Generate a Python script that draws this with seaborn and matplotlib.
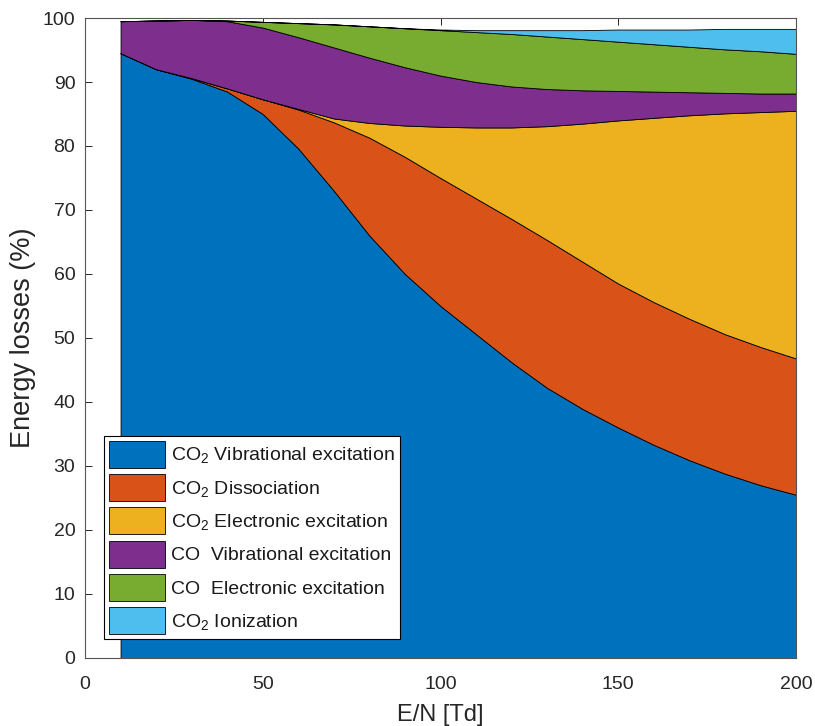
import numpy as np
import pandas as pd
import matplotlib
matplotlib.use("Agg")
import matplotlib.pyplot as plt
import seaborn as sns

# Reduced electric field E/N (Td)
en_td = [10, 20, 30, 40, 50, 60, 70, 80, 90, 100,
         110, 120, 130, 140, 150, 160, 170, 180, 190, 200]

# Fraction of electron energy going into each channel (%)
co2_vib = [94.5, 92.0, 90.5, 88.5, 85.0, 79.6, 73.0, 66.0, 60.0, 55.0,
           50.6, 46.2, 42.2, 38.9, 36.0, 33.3, 30.9, 28.8, 27.0, 25.5]
co2_diss = [0.0, 0.0, 0.1, 0.5, 2.3, 6.1, 10.7, 15.3, 18.3, 20.0,
            21.2, 22.4, 23.1, 23.0, 22.5, 22.3, 22.1, 21.8, 21.6, 21.3]
co2_elec = [0.0, 0.0, 0.0, 0.0, 0.0, 0.1, 0.6, 2.3, 4.9, 8.0,
            11.1, 14.3, 17.8, 21.6, 25.5, 28.8, 31.8, 34.5, 36.7, 38.7]
co_vib = [5.0, 7.6, 9.1, 10.5, 11.2, 11.2, 11.1, 10.2, 9.1, 8.0,
          7.1, 6.4, 5.8, 5.2, 4.6, 4.1, 3.6, 3.2, 2.9, 2.7]
co_elec = [0.0, 0.0, 0.0, 0.1, 0.9, 2.2, 3.6, 4.9, 6.1, 7.1,
           7.8, 8.2, 8.2, 8.0, 7.7, 7.4, 7.1, 6.8, 6.6, 6.2]
co2_ion = [0.0, 0.0, 0.0, 0.0, 0.0, 0.0, 0.0, 0.0, 0.0, 0.1,
           0.3, 0.6, 1.0, 1.4, 1.9, 2.3, 2.7, 3.2, 3.5, 3.9]

labels = [
    "CO$_2$ Vibrational excitation",
    "CO$_2$ Dissociation",
    "CO$_2$ Electronic excitation",
    "CO  Vibrational excitation",
    "CO  Electronic excitation",
    "CO$_2$ Ionization",
]

df = pd.DataFrame({"E/N": en_td,
                   labels[0]: co2_vib, labels[1]: co2_diss, labels[2]: co2_elec,
                   labels[3]: co_vib, labels[4]: co_elec, labels[5]: co2_ion})

sns.set_theme(style="ticks")
plt.rcParams["font.family"] = ["Liberation Sans", "DejaVu Sans"]
plt.rcParams["mathtext.fontset"] = "custom"
plt.rcParams["mathtext.rm"] = "Liberation Sans"
plt.rcParams["mathtext.it"] = "Liberation Sans:italic"
plt.rcParams["mathtext.bf"] = "Liberation Sans:bold"

palette = sns.color_palette(["#0072BD", "#D95319", "#EDB120",
                             "#7E2F8E", "#77AC30", "#4DBEEE"])

fig = plt.figure(figsize=(8.15, 7.26), dpi=100)
ax = fig.add_axes([0.1043, 0.0937, 0.8724, 0.8815])

ax.stackplot(df["E/N"], *[df[l] for l in labels], labels=labels,
             colors=palette, edgecolor="black", linewidth=0.6)

ax.set_xlim(0, 200)
ax.set_ylim(0, 100)
ax.set_xticks([0, 50, 100, 150, 200])
ax.set_yticks(np.arange(0, 101, 10))

axis_col = "#262626"
for s in ax.spines.values():
    s.set_visible(True)
    s.set_color("#555555")
    s.set_linewidth(0.8)
ax.tick_params(direction="in", length=5, width=0.7, colors=axis_col,
               labelsize=14, top=True, right=True)
ax.tick_params(axis="x", pad=13)
ax.tick_params(axis="y", pad=7)

ax.set_xlabel("E/N [Td]", fontsize=17, color=axis_col, labelpad=8)
ax.set_ylabel("Energy losses (%)", fontsize=19.5, color=axis_col, labelpad=5)

leg = ax.legend(loc="lower left", bbox_to_anchor=(0.0267, 0.0297),
                borderaxespad=0, fontsize=14, frameon=True, fancybox=False,
                framealpha=1, edgecolor="black", handlelength=2.9,
                handleheight=1.75, handletextpad=0.3, labelspacing=0.33,
                borderpad=0.25)
leg.get_frame().set_linewidth(0.8)
for t in leg.get_texts():
    t.set_color("#1a1a1a")

fig.savefig("out.png", dpi=100)
